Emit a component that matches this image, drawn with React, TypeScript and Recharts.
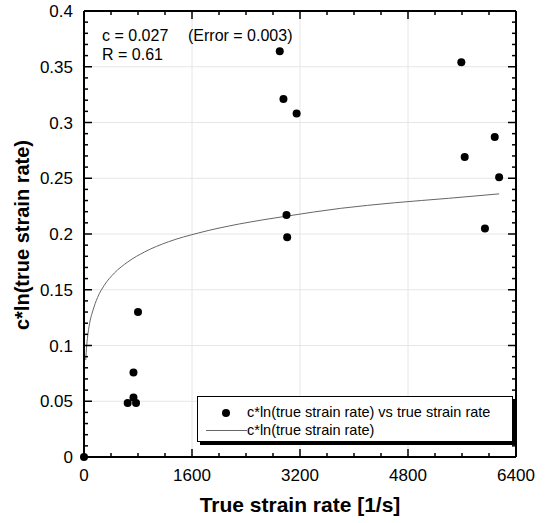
import React from 'react';
import { ComposedChart, Scatter, Line, XAxis, YAxis, ReferenceLine } from 'recharts';

// measured points
const strainRate = [0, 647, 733, 733, 771, 800, 2900, 2955, 3150, 3000, 3010, 5590, 5640, 6085, 6150, 5940];
const cLnRate = [0, 0.0485, 0.0533, 0.0758, 0.0485, 0.13, 0.364, 0.321, 0.308, 0.217, 0.197, 0.354, 0.269, 0.287, 0.251, 0.205];

// fitted curve
const curveRate = [25, 40, 60, 90, 130, 200, 300, 450, 650, 900, 1250, 1700, 2300, 3000, 3800, 4600, 5400, 6150];
const curveValue = [0.087, 0.1, 0.111, 0.122, 0.131, 0.143, 0.154, 0.165, 0.175, 0.184, 0.193, 0.201, 0.209, 0.216, 0.223, 0.228, 0.232, 0.236];

const xTicks = [0, 400, 800, 1200, 1600, 2000, 2400, 2800, 3200, 3600, 4000, 4400, 4800, 5200, 5600, 6000, 6400];
const xLabels = [0, 1600, 3200, 4800, 6400];
const yTicks = [
  0, 0.01, 0.02, 0.03, 0.04, 0.05, 0.06, 0.07, 0.08, 0.09, 0.1, 0.11, 0.12, 0.13, 0.14, 0.15, 0.16, 0.17, 0.18, 0.19, 0.2,
  0.21, 0.22, 0.23, 0.24, 0.25, 0.26, 0.27, 0.28, 0.29, 0.3, 0.31, 0.32, 0.33, 0.34, 0.35, 0.36, 0.37, 0.38, 0.39, 0.4,
];
const yLabels = [0, 0.05, 0.1, 0.15, 0.2, 0.25, 0.3, 0.35, 0.4];

const points = strainRate.map((x, i) => ({ x, y: cLnRate[i] }));
const curve = curveRate.map((x, i) => ({ x, y: curveValue[i] }));

const W = 548;
const H = 523;
const MARGIN = { top: 11, right: 32, bottom: 0, left: 0 };
const PLOT_TOP = MARGIN.top;
const PLOT_RIGHT = W - MARGIN.right;
const FONT = '"Liberation Sans", Arial, sans-serif';
const TICK_MARGIN_X = 12;
const TICK_MARGIN_Y = 11;

const isLabel = (v: number, labels: number[]) => labels.some((l) => Math.abs(l - v) < 1e-9);

const XTick = (props: any) => {
  const { x, y, payload } = props;
  const v = payload.value;
  const major = isLabel(v, xLabels);
  const len = major ? 8 : 4;
  const bottom = y - TICK_MARGIN_X;
  return (
    <g>
      <line x1={x} x2={x} y1={bottom} y2={bottom - len} stroke="#000" strokeWidth={1.5} />
      <line x1={x} x2={x} y1={PLOT_TOP} y2={PLOT_TOP + len} stroke="#000" strokeWidth={1.5} />
      {major && (
        <text x={x} y={y} dy="0.71em" textAnchor="middle" fill="#000" fontSize={17} fontFamily={FONT}>
          {v}
        </text>
      )}
    </g>
  );
};

const YTick = (props: any) => {
  const { x, y, payload } = props;
  const v = payload.value;
  const major = isLabel(v, yLabels);
  const len = major ? 8 : 4;
  const left = x + TICK_MARGIN_Y;
  return (
    <g>
      <line x1={left} x2={left + len} y1={y} y2={y} stroke="#000" strokeWidth={1.5} />
      <line x1={PLOT_RIGHT} x2={PLOT_RIGHT - len} y1={y} y2={y} stroke="#000" strokeWidth={1.5} />
      {major && (
        <text x={x} y={y} dy="0.355em" textAnchor="end" fill="#000" fontSize={17} fontFamily={FONT}>
          {v}
        </text>
      )}
    </g>
  );
};

const Dot = (props: any) => <circle cx={props.cx} cy={props.cy} r={4} fill="#000" />;

const abs = (left: number, top: number, extra: React.CSSProperties = {}): React.CSSProperties => ({
  position: 'absolute',
  left,
  top,
  whiteSpace: 'pre',
  ...extra,
});

export default function App() {
  return (
    <div style={{ position: 'absolute', left: 0, top: 0, width: W, height: H, background: '#fff', fontFamily: FONT }}>
      <ComposedChart width={W} height={H} margin={MARGIN}>
        {xLabels.slice(1, -1).map((v) => (
          <ReferenceLine key={`gx-${v}`} x={v} stroke="#e6e6e6" strokeWidth={1} />
        ))}
        {yLabels.slice(1, -1).map((v) => (
          <ReferenceLine key={`gy-${v}`} y={v} stroke="#e6e6e6" strokeWidth={1} />
        ))}
        <XAxis
          dataKey="x"
          type="number"
          domain={[0, 6400]}
          ticks={xTicks}
          interval={0}
          height={66}
          tickSize={0}
          tickMargin={TICK_MARGIN_X}
          tickLine={false}
          axisLine={{ stroke: '#000', strokeWidth: 2 }}
          tick={<XTick />}
        />
        <YAxis
          dataKey="y"
          type="number"
          domain={[0, 0.4]}
          ticks={yTicks}
          interval={0}
          width={84}
          tickSize={0}
          tickMargin={TICK_MARGIN_Y}
          tickLine={false}
          axisLine={{ stroke: '#000', strokeWidth: 2 }}
          tick={<YTick />}
        />
        <ReferenceLine x={6400} stroke="#000" strokeWidth={2} />
        <ReferenceLine y={0.4} stroke="#000" strokeWidth={2} />
        <Line
          data={curve}
          dataKey="y"
          type="monotone"
          stroke="#666"
          strokeWidth={1}
          dot={false}
          activeDot={false}
          isAnimationActive={false}
        />
        <Scatter data={points} dataKey="y" shape={<Dot />} isAnimationActive={false} />
      </ComposedChart>

      {/* fit annotation */}
      <div style={abs(102, 27, { fontSize: 16, lineHeight: '18px' })}>c = 0.027</div>
      <div style={abs(188, 27, { fontSize: 16, lineHeight: '18px' })}>(Error = 0.003)</div>
      <div style={abs(102, 46, { fontSize: 16, lineHeight: '18px' })}>R = 0.61</div>

      {/* legend */}
      <div
        style={{
          position: 'absolute',
          left: 197,
          top: 396,
          width: 316,
          height: 46,
          boxSizing: 'border-box',
          border: '1px solid #000',
          boxShadow: '3px 3px 0 #000',
          background: '#fff',
          fontSize: 14.5,
        }}
      >
        <div style={{ position: 'absolute', left: 24, top: 12, width: 8, height: 8, borderRadius: 4, background: '#000' }} />
        <div style={abs(49, 7, { lineHeight: '16px' })}>c*ln(true strain rate) vs true strain rate</div>
        <div style={{ position: 'absolute', left: 8, top: 33, width: 41, height: 1, background: '#666' }} />
        <div style={abs(49, 25, { lineHeight: '16px' })}>c*ln(true strain rate)</div>
      </div>

      {/* axis titles */}
      <div
        style={abs(22, 235, {
          transform: 'translate(-50%, -50%) rotate(-90deg)',
          fontSize: 20,
          fontWeight: 'bold',
        })}
      >
        c*ln(true strain rate)
      </div>
      <div style={abs(300, 505, { transform: 'translate(-50%, -50%)', fontSize: 21, fontWeight: 'bold' })}>
        True strain rate [1/s]
      </div>
    </div>
  );
}
